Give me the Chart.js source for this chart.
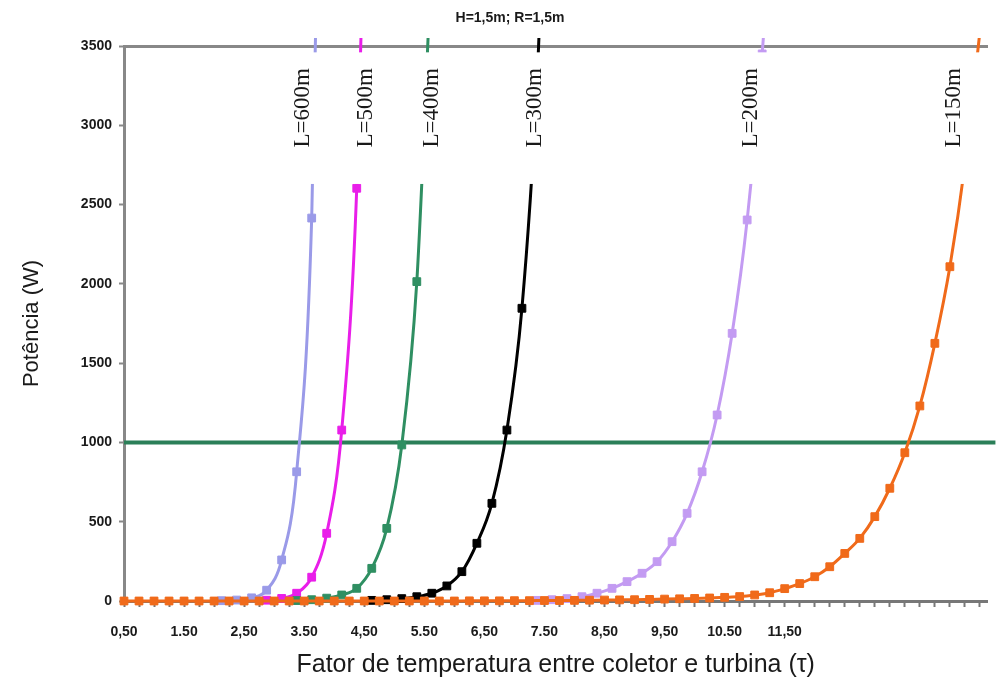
<!DOCTYPE html>
<html>
<head>
<meta charset="utf-8">
<script src="https://cdn.jsdelivr.net/npm/chart.js@4.4.0/dist/chart.umd.min.js"></script>
<style>
  body { margin: 0; background: #fff; }
  #wrap { width: 997px; height: 686px; }
</style>
</head>
<body>
<div id="wrap"><canvas id="potChart" width="997" height="686"></canvas></div>
<script>
// values: tau (x) and power in W (y) for each pipe length
var tau600 = [2.125, 2.375, 2.625, 2.875, 3.125, 3.375, 3.625, 3.875];
var pow600 = [2, 6, 20, 68, 259, 815, 2415, 7100];

var tau500 = [2.875, 3.125, 3.375, 3.625, 3.875, 4.125, 4.375, 4.625];
var pow500 = [5, 16, 49, 150, 427, 1078, 2603, 6100];

var tau400 = [3.375, 3.625, 3.875, 4.125, 4.375, 4.625, 4.875, 5.125, 5.375, 5.625];
var pow400 = [3, 8, 18, 38, 80, 206, 458, 984, 2014, 4100];

var tau300 = [4.625, 4.875, 5.125, 5.375, 5.625, 5.875, 6.125, 6.375, 6.625, 6.875, 7.125, 7.375, 7.625];
var pow300 = [4, 8, 15, 27, 49, 95, 185, 364, 616, 1078, 1846, 3250, 5600];

var tau200 = [7.375, 7.625, 7.875, 8.125, 8.375, 8.625, 8.875, 9.125, 9.375, 9.625, 9.875,
              10.125, 10.375, 10.625, 10.875, 11.125, 11.375];
var pow200 = [4, 8, 15, 27, 49, 80, 122, 175, 248, 374, 553, 815, 1173, 1688, 2403, 3450, 4950];

var tau150 = [0.5, 0.75, 1, 1.25, 1.5, 1.75, 2, 2.25, 2.5, 2.75, 3, 3.25, 3.5, 3.75, 4, 4.25,
              4.5, 4.75, 5, 5.25, 5.5, 5.75, 6, 6.25, 6.5, 6.75, 7, 7.25, 7.5, 7.75, 8, 8.25,
              8.5, 8.75, 9, 9.25, 9.5, 9.75, 10, 10.25, 10.5, 10.75, 11, 11.25, 11.5, 11.75,
              12, 12.25, 12.5, 12.75, 13, 13.25, 13.5, 13.75, 14, 14.25, 14.5, 14.75];
var pow150 = [0, 0, 0, 0, 0, 0, 0, 0, 0, 0, 0, 0, 0, 0, 0, 0,
              0, 0, 0, 0, 0, 0, 0, 1, 1, 1, 2, 2, 3, 3, 4, 5,
              6, 7, 8, 10, 12, 14, 16, 19, 23, 28, 38, 52, 78, 110,
              153, 216, 300, 395, 532, 711, 935, 1230, 1625, 2108, 2750, 3590];

var targetPower = 1000;
var targetTau = [0.5, 15.1];

var xTickLabels = ['0,50', '1.50', '2,50', '3.50', '4,50', '5.50', '6,50', '7.50', '8,50', '9,50', '10.50', '11,50'];
var lengthLabels = ['L=600m', 'L=500m', 'L=400m', 'L=300m', 'L=200m', 'L=150m'];
var lengthLabelTau = [3.48, 4.52, 5.63, 7.35, 10.93, 14.31];
var heading = 'H=1,5m; R=1,5m';

var xMin = 0.5, xMax = 14.875;
var xTickValues = [];
for (var t = xMin; t <= 14.75; t += 0.25) xTickValues.push(t);

var sans = '"Liberation Sans", Arial, sans-serif';

function pairs(xs, ys) {
    return xs.map(function (v, i) { return { x: v, y: ys[i] }; });
}

function curve(label, xs, ys, colour, order) {
    return {
        label: label,
        data: pairs(xs, ys),
        borderColor: colour,
        backgroundColor: colour,
        borderWidth: 3,
        pointStyle: 'rect',
        pointRadius: 5.5,
        pointBorderWidth: 1,
        pointBorderColor: colour,
        cubicInterpolationMode: 'monotone',
        clip: { left: 5, top: 8, right: 0, bottom: 6 },
        order: order
    };
}

// white text box over the top of the plot, with the L= labels, as in the original figure
var overlay = {
    id: 'overlay',
    afterDatasetsDraw: function (chart) {
        var ctx = chart.ctx, area = chart.chartArea;
        var xs = chart.scales.x, ys = chart.scales.y;
        var top = ys.getPixelForValue(3460), bottom = ys.getPixelForValue(2630);
        ctx.save();
        ctx.fillStyle = '#ffffff';
        ctx.fillRect(area.left + 2, top, area.right - area.left + 5, bottom - top);

        ctx.fillStyle = '#1a1a1a';
        ctx.font = '23px "Liberation Serif", "Times New Roman", serif';
        ctx.textAlign = 'left';
        ctx.textBaseline = 'middle';
        var base = ys.getPixelForValue(2860);
        for (var i = 0; i < lengthLabels.length; i++) {
            ctx.save();
            ctx.translate(xs.getPixelForValue(lengthLabelTau[i]), base);
            ctx.rotate(-Math.PI / 2);
            ctx.fillText(lengthLabels[i], 0, 0);
            ctx.restore();
        }

        ctx.font = 'bold 14px ' + sans;
        ctx.textAlign = 'center';
        ctx.fillText(heading, 510, 18);
        ctx.restore();
    }
};

var chart = new Chart(document.getElementById('potChart').getContext('2d'), {
    type: 'line',
    data: {
        datasets: [
            {
                label: 'P = 1000 W',
                data: pairs(targetTau, [targetPower, targetPower]),
                borderColor: '#2b7f58',
                borderWidth: 4,
                pointRadius: 0,
                clip: { left: 0, top: 0, right: 8, bottom: 0 },
                order: 10
            },
            curve('L=600m', tau600, pow600, '#9a9ae8', 6),
            curve('L=500m', tau500, pow500, '#e91ee9', 5),
            curve('L=400m', tau400, pow400, '#2f8f62', 4),
            curve('L=300m', tau300, pow300, '#000000', 3),
            curve('L=200m', tau200, pow200, '#c39bf2', 2),
            curve('L=150m', tau150, pow150, '#f06a1a', 1)
        ]
    },
    options: {
        responsive: false,
        animation: false,
        events: [],
        layout: { padding: { top: 46, right: 7, bottom: 0, left: 0 } },
        plugins: {
            legend: { display: false },
            tooltip: { enabled: false }
        },
        scales: {
            x: {
                type: 'linear',
                min: xMin,
                max: xMax,
                afterBuildTicks: function (s) {
                    s.ticks = xTickValues.map(function (v) { return { value: v }; });
                },
                afterFit: function (s) { s.height = 85; },
                ticks: {
                    autoSkip: false,
                    maxRotation: 0,
                    padding: 17,
                    color: '#1a1a1a',
                    font: { family: sans, size: 14, weight: 'bold' },
                    callback: function (v) {
                        var i = Math.round(v - xMin);
                        if (Math.abs(v - xMin - i) < 1e-6 && i < xTickLabels.length) return xTickLabels[i];
                        return '';
                    }
                },
                grid: { drawOnChartArea: false, tickLength: 6, tickWidth: 2, color: '#777' },
                border: { color: '#777', width: 3 },
                title: {
                    display: true,
                    text: 'Fator de temperatura entre coletor e turbina (\u03C4)',
                    color: '#1a1a1a',
                    font: { family: sans, size: 25 },
                    padding: { top: 0, bottom: 6 }
                }
            },
            x2: {
                type: 'linear',
                position: 'top',
                min: xMin,
                max: xMax,
                ticks: { display: false },
                grid: { drawOnChartArea: false, drawTicks: false },
                border: { color: '#888', width: 3 }
            },
            y: {
                min: 0,
                max: 3500,
                afterFit: function (s) { s.width = 124; },
                ticks: {
                    stepSize: 500,
                    padding: 7,
                    color: '#1a1a1a',
                    font: { family: sans, size: 14, weight: 'bold' },
                    callback: function (v) { return String(v); }
                },
                grid: { drawOnChartArea: false, tickLength: 5, tickWidth: 2, color: '#888' },
                border: { color: '#888', width: 3 },
                title: {
                    display: true,
                    text: 'Potência (W)',
                    color: '#1a1a1a',
                    font: { family: sans, size: 22 },
                    padding: { top: 19, bottom: 0 }
                }
            }
        }
    },
    plugins: [overlay]
});
</script>
</body>
</html>
